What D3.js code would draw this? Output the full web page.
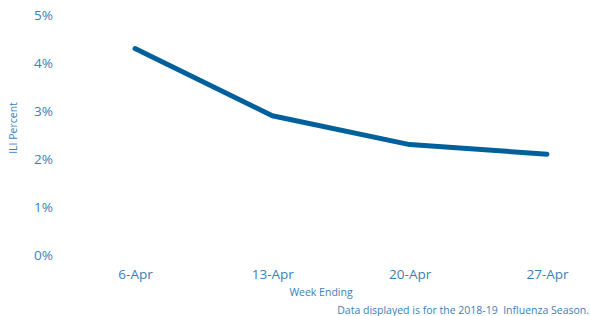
<!DOCTYPE html>
<html><head><meta charset="utf-8">
<script src="https://cdn.jsdelivr.net/npm/d3@7"></script>
<style>body{margin:0;background:#fff}svg{display:block}</style>
</head><body>
<svg id="c" width="590" height="316"></svg>
<script>
const weeks = ["6-Apr","13-Apr","20-Apr","27-Apr"];
const iliValues = [4.3, 2.9, 2.3, 2.1];
const yTicks = [0,1,2,3,4,5];
const font = "'Open Sans', 'Noto Sans', sans-serif";
const textColor = "#3a7fb8";
const svg = d3.select("#c");
const x = d3.scalePoint().domain(weeks).range([135, 547]);
const y = d3.scaleLinear().domain([0,5]).range([255, 15]);

const yAxis = svg.append("g").attr("transform","translate(56,0)")
  .call(d3.axisLeft(y).tickValues(yTicks).tickFormat(d=>d+"%").tickSize(0).tickPadding(3));
yAxis.select(".domain").remove();
yAxis.selectAll("text").attr("font-family",font).attr("font-size",13.5).attr("fill",textColor);

const xAxis = svg.append("g").attr("transform","translate(0,269)")
  .call(d3.axisBottom(x).tickSize(0).tickPadding(0));
xAxis.select(".domain").remove();
xAxis.selectAll("text").attr("font-family",font).attr("font-size",13.5).attr("fill",textColor);

svg.append("path").datum(weeks.map((w,i)=>[w,iliValues[i]]))
  .attr("fill","none").attr("stroke","#00609c").attr("stroke-width",5)
  .attr("stroke-linecap","round").attr("stroke-linejoin","round")
  .attr("d", d3.line().x(d=>x(d[0])).y(d=>y(d[1])));

svg.append("text").attr("transform","translate(17,128) rotate(-90)")
  .attr("text-anchor","middle").attr("font-family",font).attr("font-size",10.5)
  .attr("fill",textColor).text("ILI Percent");
svg.append("text").attr("x",321).attr("y",296).attr("text-anchor","middle")
  .attr("font-family",font).attr("font-size",10.5).attr("fill",textColor).text("Week Ending");
svg.append("text").attr("x",589).attr("y",314).attr("text-anchor","end")
  .attr("font-family",font).attr("font-size",10.5).attr("fill",textColor)
  .attr("xml:space","preserve").text("Data displayed is for the 2018-19  Influenza Season.");
</script>
</body></html>
